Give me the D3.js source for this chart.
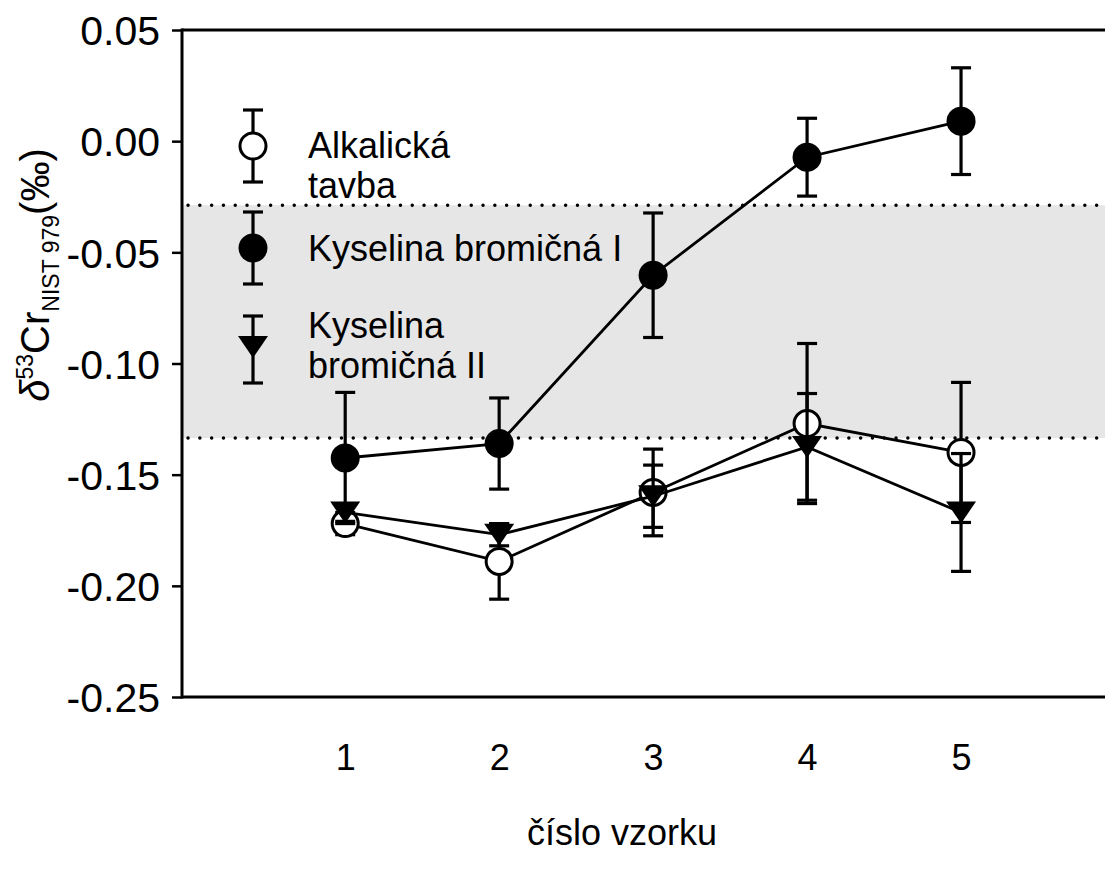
<!DOCTYPE html>
<html lang="cs">
<head>
    <meta charset="UTF-8">
    <title>delta 53 Cr</title>
    <script src="https://d3js.org/d3.v7.min.js"></script>
    <style>
        body { margin: 0; background: #fff; }
        text { font-family: "Liberation Sans", Arial, sans-serif; fill: #000; }
        .axis path, .axis line { stroke: #000; }
    </style>
</head>
<body>
<script>

    var width = 1105,
        height = 874;

    // data
    var samples = [1, 2, 3, 4, 5];
    var xTicks = [1, 2, 3, 4, 5];
    var yTicks = [0.05, 0.00, -0.05, -0.10, -0.15, -0.20, -0.25];

    var alkalicka = [-0.172, -0.189, -0.158, -0.127, -0.140];
    var alkalickaErr = [0.005, 0.017, 0.0195, 0.036, 0.0315];

    var bromI = [-0.1425, -0.136, -0.0603, -0.0072, 0.009];
    var bromIErr = [0.0295, 0.0205, 0.028, 0.0175, 0.024];

    var bromII = [-0.167, -0.177, -0.1597, -0.1375, -0.167];
    var bromIIErr = [0.004, 0.005, 0.014, 0.024, 0.0265];

    // reference band
    var bandTop = -0.0288,
        bandBottom = -0.1335;

    var plotLeft = 182, plotTop = 30, plotBottom = 697, plotRight = 1115;

    var x = d3.scaleLinear().domain([-0.06, 6]).range([plotLeft, plotRight]);
    var y = d3.scaleLinear().domain([-0.25, 0.05]).range([plotBottom, plotTop]);

    var svg = d3.select("body").append("svg")
        .attr("width", width)
        .attr("height", height);

    // grey band
    svg.append("rect")
        .attr("x", plotLeft)
        .attr("y", y(bandTop))
        .attr("width", plotRight - plotLeft)
        .attr("height", y(bandBottom) - y(bandTop))
        .attr("fill", "#e6e6e6");

    [bandTop, bandBottom].forEach(function(v) {
        svg.append("line")
            .attr("x1", plotLeft + 6).attr("x2", plotRight)
            .attr("y1", y(v)).attr("y2", y(v))
            .attr("stroke", "#000")
            .attr("stroke-width", 3.4)
            .attr("stroke-linecap", "round")
            .attr("stroke-dasharray", "0.1 11.7");
    });

    // frame lines
    svg.append("line").attr("x1", plotLeft).attr("x2", plotRight).attr("y1", plotTop).attr("y2", plotTop)
        .attr("stroke", "#000").attr("stroke-width", 3);
    svg.append("line").attr("x1", plotLeft).attr("x2", plotRight).attr("y1", plotBottom).attr("y2", plotBottom)
        .attr("stroke", "#000").attr("stroke-width", 3);

    // y axis
    var fmt = d3.format(".2f");
    var yAxis = svg.append("g")
        .attr("class", "axis")
        .attr("transform", "translate(" + plotLeft + ",0)")
        .call(d3.axisLeft(y).tickValues(yTicks).tickSize(10).tickPadding(12)
            .tickFormat(function(d) { return fmt(d).replace("−", "-"); }));
    yAxis.select(".domain").attr("stroke-width", 3).attr("d", "M0," + (plotTop - 1.5) + "V" + (plotBottom + 1.5));
    yAxis.selectAll(".tick line").attr("stroke-width", 2.5);
    yAxis.selectAll(".tick text").style("font-size", "41px").attr("dy", "0.36em");

    // x axis labels (no tick marks)
    var xAxis = svg.append("g")
        .attr("class", "axis")
        .attr("transform", "translate(0," + plotBottom + ")")
        .call(d3.axisBottom(x).tickValues(xTicks).tickSize(0).tickPadding(47)
            .tickFormat(d3.format("d")));
    xAxis.select(".domain").remove();
    xAxis.selectAll(".tick text").style("font-size", "36px");

    // axis titles
    svg.append("text")
        .attr("x", 622)
        .attr("y", 845)
        .attr("text-anchor", "middle")
        .style("font-size", "36px")
        .text("číslo vzorku");

    var yTitle = svg.append("text")
        .attr("transform", "translate(49,275) rotate(-90)")
        .attr("text-anchor", "middle")
        .style("font-size", "40px");
    yTitle.append("tspan").style("font-style", "italic").text("δ");
    yTitle.append("tspan").attr("dy", -16).style("font-size", "23px").text("53");
    yTitle.append("tspan").attr("dy", 16).text("Cr");
    yTitle.append("tspan").attr("dy", 10).style("font-size", "23px").text("NIST 979");
    yTitle.append("tspan").attr("dy", -10).text("(‰)");

    var tri = "M-15,-11L15,-11L0,11Z";
    var capW = 10;

    function drawSeries(vals, errs, kind) {
        var pts = samples.map(function(s, i) { return { x: s, y: vals[i], e: errs[i] }; });
        var g = svg.append("g");

        g.append("path")
            .datum(pts)
            .attr("fill", "none")
            .attr("stroke", "#000")
            .attr("stroke-width", 2.8)
            .attr("d", d3.line().x(function(d) { return x(d.x); }).y(function(d) { return y(d.y); }));

        var eb = g.selectAll(".err").data(pts).enter().append("g").attr("class", "err")
            .attr("stroke", "#000").attr("stroke-width", 3.2);
        eb.append("line")
            .attr("x1", function(d) { return x(d.x); }).attr("x2", function(d) { return x(d.x); })
            .attr("y1", function(d) { return y(d.y + d.e); }).attr("y2", function(d) { return y(d.y - d.e); });
        eb.append("line")
            .attr("x1", function(d) { return x(d.x) - capW; }).attr("x2", function(d) { return x(d.x) + capW; })
            .attr("y1", function(d) { return y(d.y + d.e); }).attr("y2", function(d) { return y(d.y + d.e); });
        eb.append("line")
            .attr("x1", function(d) { return x(d.x) - capW; }).attr("x2", function(d) { return x(d.x) + capW; })
            .attr("y1", function(d) { return y(d.y - d.e); }).attr("y2", function(d) { return y(d.y - d.e); });

        drawMarker(g.selectAll(".mk").data(pts).enter().append("g")
            .attr("transform", function(d) { return "translate(" + x(d.x) + "," + y(d.y) + ")"; }), kind);
    }

    function drawMarker(sel, kind) {
        if (kind === "tri") {
            sel.append("path").attr("d", tri).attr("fill", "#000");
        } else if (kind === "open") {
            sel.append("circle").attr("r", 13).attr("fill", "#fff").attr("stroke", "#000").attr("stroke-width", 3);
        } else {
            sel.append("circle").attr("r", 14.5).attr("fill", "#000");
        }
    }

    drawSeries(alkalicka, alkalickaErr, "open");
    drawSeries(bromI, bromIErr, "filled");
    drawSeries(bromII, bromIIErr, "tri");

    // legend
    var legend = [
        { kind: "open", y: 146, up: 36, down: 36, lines: ["Alkalická", "tavba"], ty: 158 },
        { kind: "filled", y: 248, up: 36, down: 36, lines: ["Kyselina bromičná I"], ty: 261 },
        { kind: "tri", y: 347, up: 31, down: 36, lines: ["Kyselina", "bromičná II"], ty: 338 }
    ];
    var lx = 253;

    legend.forEach(function(l) {
        var g = svg.append("g");
        g.append("line").attr("x1", lx).attr("x2", lx).attr("y1", l.y - l.up).attr("y2", l.y + l.down)
            .attr("stroke", "#000").attr("stroke-width", 3.2);
        [l.y - l.up, l.y + l.down].forEach(function(cy) {
            g.append("line").attr("x1", lx - capW).attr("x2", lx + capW).attr("y1", cy).attr("y2", cy)
                .attr("stroke", "#000").attr("stroke-width", 3.2);
        });
        drawMarker(g.append("g").attr("transform", "translate(" + lx + "," + l.y + ")"), l.kind);
        l.lines.forEach(function(t, i) {
            g.append("text")
                .attr("x", 308)
                .attr("y", l.ty + i * 40)
                .style("font-size", "36px")
                .text(t);
        });
    });

</script>
</body>
</html>
